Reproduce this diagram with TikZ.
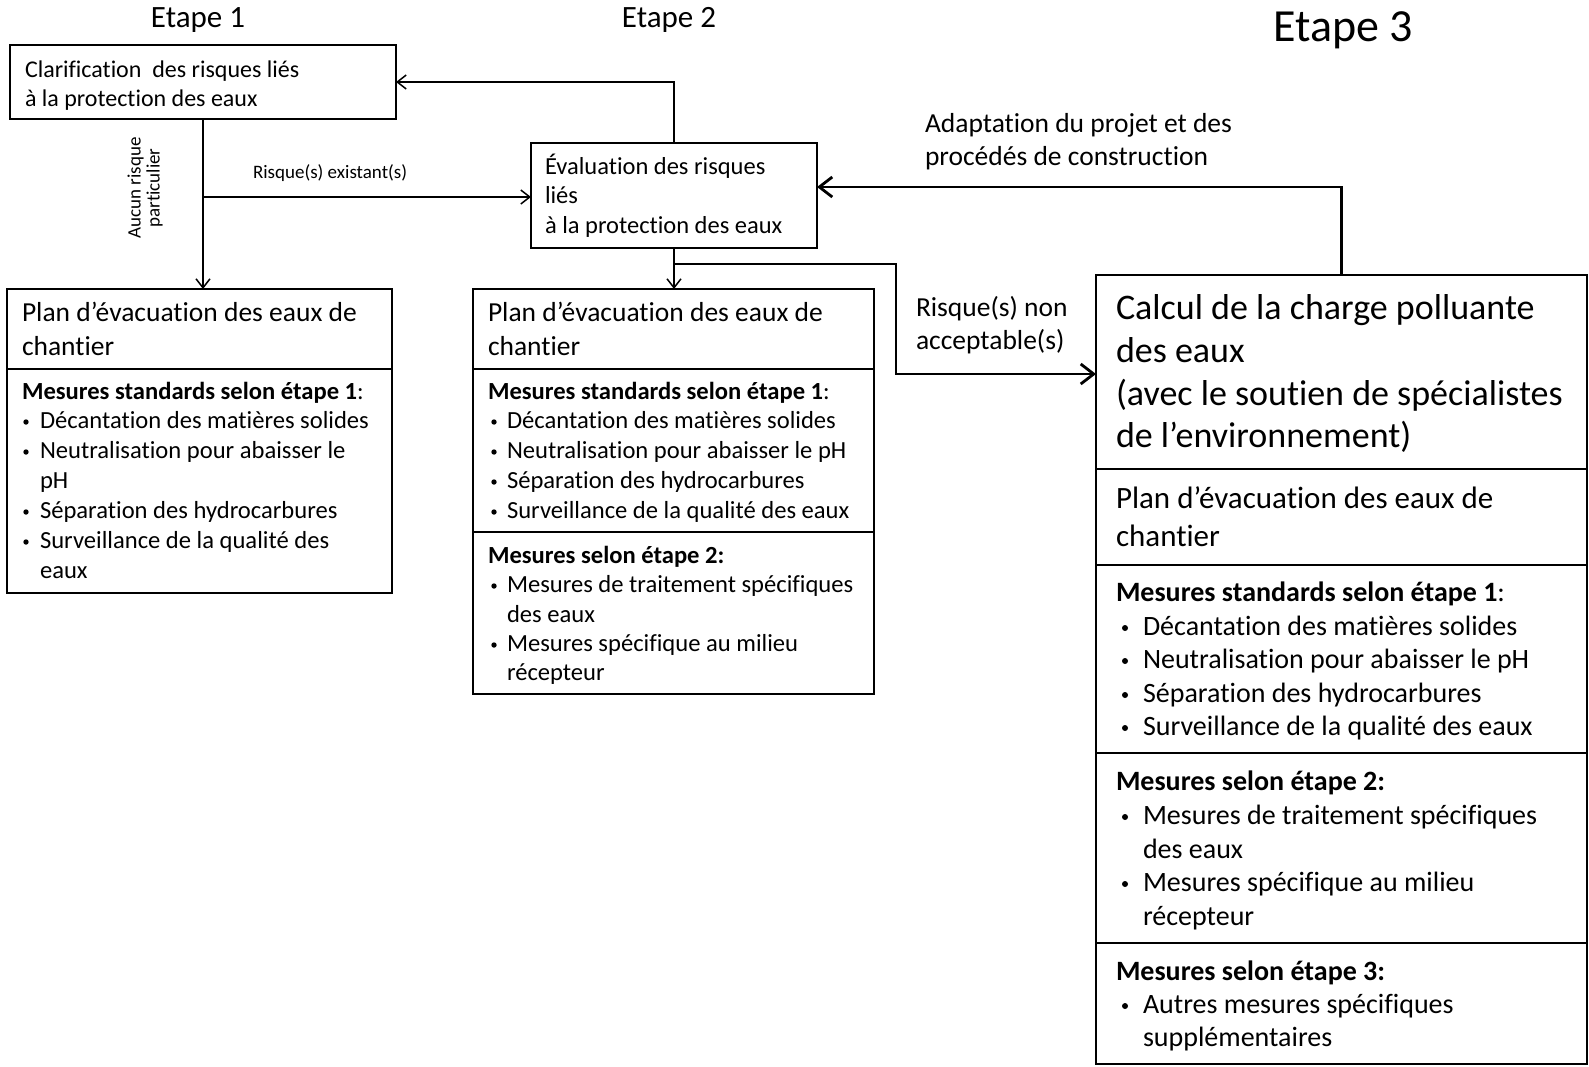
\documentclass[tikz,border=0pt]{standalone}
\usepackage{fontspec}
\setmainfont{Carlito}[Ligatures={NoCommon}]
\usetikzlibrary{arrows.meta}
% font size in pt, tight leading (each line is placed on its own)
\newcommand\fs[1]{\fontsize{#1}{#1}\selectfont}
% a bulleted line: name, bullet centre x, text x, baseline y, text
\newcommand\itemline[5]{%
  \node[txt] (#1) at (#3,#4) {#5};
  \node[dot] (#1b) at ([yshift=\dotlift]#2,#4) {};}
% a plain line: name, x, baseline y, text
\newcommand\plainline[4]{\node[txt] (#1) at (#2,#3) {#4};}
\newcommand\dotlift{6pt}

\begin{document}
\begin{tikzpicture}[x=1pt,y=-1pt,
  txt/.style={anchor=base west,inner sep=0pt,outer sep=0pt},
  dot/.style={circle,fill,inner sep=0pt,minimum size=5.4pt},
  box/.style={draw,line width=1.5pt,inner sep=0pt,outer sep=0pt},
  bigbox/.style={draw,line width=2.2pt,inner sep=0pt,outer sep=0pt},
  divider/.style={line width=1.5pt},
  bigdivider/.style={line width=2.2pt},
  thin arrow/.style={line width=1.5pt,-{Straight Barb[length=9pt,width=14pt]}},
  thick arrow/.style={line width=2.8pt,-{Straight Barb[length=13pt,width=20pt]}},
]
\useasboundingbox (0,0) rectangle (1589,1066);
\fill[white] (0,0) rectangle (1589,1066);

% stage titles
\node[anchor=base,inner sep=0pt,font=\fs{31}] (t1) at (198,27) {Etape 1};
\node[anchor=base,inner sep=0pt,font=\fs{31}] (t2) at (669,27) {Etape 2};
\node[anchor=base,inner sep=0pt,font=\fs{46}] (t3) at (1343,41) {Etape 3};

% boxes
\node[box,minimum width=386pt,minimum height=74pt] (clar) at (203,82) {};
\node[box,minimum width=385pt,minimum height=304pt] (plan1) at (199.5,441) {};
\node[box,minimum width=286pt,minimum height=105pt] (eval) at (674,195.5) {};
\node[box,minimum width=401pt,minimum height=405pt] (plan2) at (673.5,491.5) {};
\node[bigbox,minimum width=491pt,minimum height=789pt] (calc) at (1341.5,669.5) {};

% section dividers
\coordinate (d1) at (0,369);
\coordinate (d2) at (0,532);
\draw[divider] (plan1.west |- d1) -- (plan1.east |- d1);
\draw[divider] (plan2.west |- d1) -- (plan2.east |- d1);
\draw[divider] (plan2.west |- d2) -- (plan2.east |- d2);
\foreach \yy in {469,565,753,943}{
  \coordinate (dd) at (0,\yy);
  \draw[bigdivider] (calc.west |- dd) -- (calc.east |- dd);
}

% stage 1 texts
\begin{scope}[every node/.append style={font=\fs{24}}]
\plainline{c1}{25}{77}{Clarification\ \ des risques liés}
\plainline{c2}{25}{106}{à la protection des eaux}
\end{scope}
\begin{scope}[every node/.append style={font=\fs{27.5}}]
\plainline{p1a}{22}{321}{Plan d’évacuation des eaux de}
\plainline{p1b}{22}{355}{chantier}
\end{scope}
\begin{scope}[every node/.append style={font=\fs{24.6}}]
\plainline{p1h}{22}{399}{\textbf{Mesures standards selon étape 1}:}
\itemline{p1i1}{26}{40}{428}{Décantation des matières solides}
\itemline{p1i2}{26}{40}{458}{Neutralisation pour abaisser le}
\plainline{p1i2c}{40}{488}{pH}
\itemline{p1i3}{26}{40}{518}{Séparation des hydrocarbures}
\itemline{p1i4}{26}{40}{548}{Surveillance de la qualité des}
\plainline{p1i4c}{40}{578}{eaux}
\end{scope}

% stage 2 texts
\begin{scope}[every node/.append style={font=\fs{24.5}}]
\plainline{e1}{545}{174}{Évaluation des risques}
\plainline{e2}{545}{203}{liés}
\plainline{e3}{545}{233}{à la protection des eaux}
\end{scope}
\begin{scope}[every node/.append style={font=\fs{27.5}}]
\plainline{p2a}{488}{321}{Plan d’évacuation des eaux de}
\plainline{p2b}{488}{355}{chantier}
\end{scope}
\begin{scope}[every node/.append style={font=\fs{24.6}}]
\plainline{p2h}{488}{399}{\textbf{Mesures standards selon étape 1}:}
\itemline{p2i1}{494}{507}{428}{Décantation des matières solides}
\itemline{p2i2}{494}{507}{458}{Neutralisation pour abaisser le pH}
\itemline{p2i3}{494}{507}{488}{Séparation des hydrocarbures}
\itemline{p2i4}{494}{507}{518}{Surveillance de la qualité des eaux}
\plainline{p2k}{488}{563}{\textbf{Mesures selon étape 2:}}
\itemline{p2j1}{494}{507}{592}{Mesures de traitement spécifiques}
\plainline{p2j1c}{507}{622}{des eaux}
\itemline{p2j2}{494}{507}{651}{Mesures spécifique au milieu}
\plainline{p2j2c}{507}{680}{récepteur}
\end{scope}

% stage 3 texts
\begin{scope}[every node/.append style={font=\fs{36}}]
\plainline{k1}{1116}{319}{Calcul de la charge polluante}
\plainline{k2}{1116}{362}{des eaux}
\plainline{k3}{1116}{405}{(avec le soutien de spécialistes}
\plainline{k4}{1116}{447}{de l’environnement)}
\end{scope}
\begin{scope}[every node/.append style={font=\fs{31}}]
\plainline{p3a}{1116}{508}{Plan d’évacuation des eaux de}
\plainline{p3b}{1116}{546}{chantier}
\end{scope}
\renewcommand\dotlift{7pt}
\begin{scope}[every node/.append style={font=\fs{28}},dot/.append style={minimum size=6pt}]
\plainline{p3h}{1116}{601}{\textbf{Mesures standards selon étape 1}:}
\itemline{p3i1}{1125}{1143}{635}{Décantation des matières solides}
\itemline{p3i2}{1125}{1143}{668}{Neutralisation pour abaisser le pH}
\itemline{p3i3}{1125}{1143}{702}{Séparation des hydrocarbures}
\itemline{p3i4}{1125}{1143}{735}{Surveillance de la qualité des eaux}
\plainline{p3k}{1116}{790}{\textbf{Mesures selon étape 2:}}
\itemline{p3j1}{1125}{1143}{824}{Mesures de traitement spécifiques}
\plainline{p3j1c}{1143}{858}{des eaux}
\itemline{p3j2}{1125}{1143}{891}{Mesures spécifique au milieu}
\plainline{p3j2c}{1143}{925}{récepteur}
\plainline{p3m}{1116}{980}{\textbf{Mesures selon étape 3:}}
\itemline{p3m1}{1125}{1143}{1013}{Autres mesures spécifiques}
\plainline{p3m1c}{1143}{1046}{supplémentaires}
\end{scope}

% connector labels
\node[inner sep=0pt,rotate=90,align=center,font=\fs{19}] (norisk) at (145,188)
  {Aucun risque\\particulier};
\node[txt,font=\fs{19}] (exist) at (253,178) {Risque(s) existant(s)};
\begin{scope}[every node/.append style={font=\fs{27.5}}]
\plainline{na1}{916}{316}{Risque(s) non}
\plainline{na2}{916}{349}{acceptable(s)}
\plainline{ad1}{925}{132}{Adaptation du projet et des}
\plainline{ad2}{925}{165}{procédés de construction}
\end{scope}

% connectors
\coordinate (j1) at (203,197);
\draw[thin arrow] (clar.south) -- (clar.south |- plan1.north);
\draw[thin arrow] (j1) -- (j1 -| eval.west);
\draw[thin arrow] (eval.north) |- (clar.east);
\draw[thin arrow] (eval.south) -- (eval.south |- plan2.north);

\coordinate (j2) at (674,264);
\coordinate (b1) at (896,264);
\coordinate (b2) at (896,374);
\draw[thick arrow] (eval.south |- j2) -- (b1) -- (b2) -- (b2 -| calc.west);

\coordinate (b3) at (1341.5,187);
\draw[thick arrow] (calc.north) -- (b3) -- (b3 -| eval.east);
\end{tikzpicture}
\end{document}
